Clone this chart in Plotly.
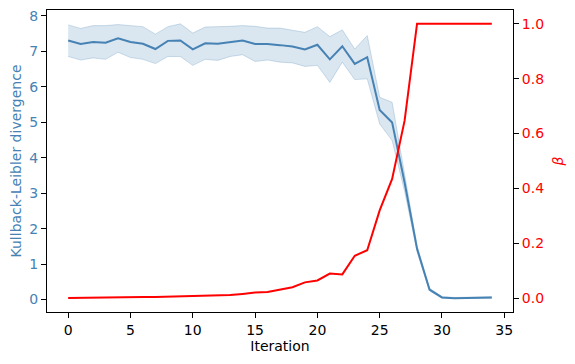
import plotly.graph_objects as go

iteration = list(range(35))

# mean KL divergence per iteration
kl_mean = [7.30, 7.20, 7.26, 7.24, 7.36, 7.26, 7.21, 7.06, 7.29, 7.30,
           7.05, 7.22, 7.21, 7.26, 7.30, 7.20, 7.20, 7.17, 7.13, 7.05,
           7.18, 6.77, 7.14, 6.64, 6.83, 5.34, 4.99, 3.30, 1.43, 0.28,
           0.06, 0.04, 0.05, 0.05, 0.06]
# confidence band
kl_upper = [7.74, 7.64, 7.72, 7.72, 7.75, 7.71, 7.69, 7.48, 7.69, 7.77,
            7.51, 7.68, 7.68, 7.70, 7.72, 7.70, 7.65, 7.65, 7.59, 7.53,
            7.69, 7.41, 7.60, 7.06, 7.44, 5.70, 5.56, 3.55, 1.52, 0.32,
            0.08, 0.06, 0.07, 0.07, 0.08]
kl_lower = [6.85, 6.75, 6.81, 6.77, 6.97, 6.82, 6.77, 6.65, 6.85, 6.85,
            6.60, 6.77, 6.74, 6.85, 6.90, 6.71, 6.75, 6.69, 6.67, 6.57,
            6.60, 6.12, 6.69, 6.20, 6.22, 4.95, 4.48, 3.05, 1.35, 0.24,
            0.04, 0.03, 0.03, 0.04, 0.04]
# beta schedule
beta = [0.001, 0.002, 0.002, 0.003, 0.003, 0.004, 0.005, 0.005, 0.006, 0.007,
        0.008, 0.010, 0.012, 0.012, 0.016, 0.021, 0.023, 0.032, 0.040, 0.058,
        0.065, 0.090, 0.087, 0.155, 0.175, 0.320, 0.435, 0.647, 1.0, 1.0,
        1.0, 1.0, 1.0, 1.0, 1.0]

blue = '#4682b4'
band = 'rgba(70,130,180,0.2)'
fs = 14

fig = go.Figure()

# band
fig.add_trace(go.Scatter(x=iteration, y=kl_upper, mode='lines',
                         line=dict(color='rgba(70,130,180,0.25)', width=1),
                         showlegend=False, hoverinfo='skip'))
fig.add_trace(go.Scatter(x=iteration, y=kl_lower, mode='lines', fill='tonexty',
                         fillcolor=band,
                         line=dict(color='rgba(70,130,180,0.25)', width=1),
                         showlegend=False, hoverinfo='skip'))
# KL line
fig.add_trace(go.Scatter(x=iteration, y=kl_mean, mode='lines',
                         line=dict(color=blue, width=2), showlegend=False))
# beta on right axis
fig.add_trace(go.Scatter(x=iteration, y=beta, mode='lines', yaxis='y2',
                         line=dict(color='red', width=2), showlegend=False))

axis_common = dict(showgrid=False, zeroline=False, showline=True,
                   linecolor='black', linewidth=1, ticks='outside',
                   ticklen=5, tickcolor='black', automargin=False,
                   ticklabeloverflow='allow')

# page body has an 8px margin, so the figure is shrunk by that much
fig.update_layout(
    width=567, height=356,
    plot_bgcolor='white', paper_bgcolor='white',
    font=dict(family='DejaVu Sans', size=fs, color='black'),
    margin=dict(l=39, r=62, t=2, b=52),
    xaxis=dict(axis_common, range=[-1.7, 35.7], dtick=5, mirror=True,
               tickfont=dict(size=fs),
               title=dict(text='Iteration', font=dict(size=fs), standoff=3)),
    yaxis=dict(axis_common, range=[-0.35, 8.16], dtick=1,
               tickfont=dict(color=blue, size=fs),
               title=dict(text='Kullback-Leibler divergence',
                          font=dict(color=blue, size=fs), standoff=8)),
    yaxis2=dict(axis_common, range=[-0.05, 1.05], dtick=0.2, tickformat='.1f',
                overlaying='y', side='right', tickfont=dict(color='red', size=fs),
                title=dict(text='<i>β</i>', font=dict(color='red', size=fs),
                           standoff=10)),
)

fig.write_html("out.html")
